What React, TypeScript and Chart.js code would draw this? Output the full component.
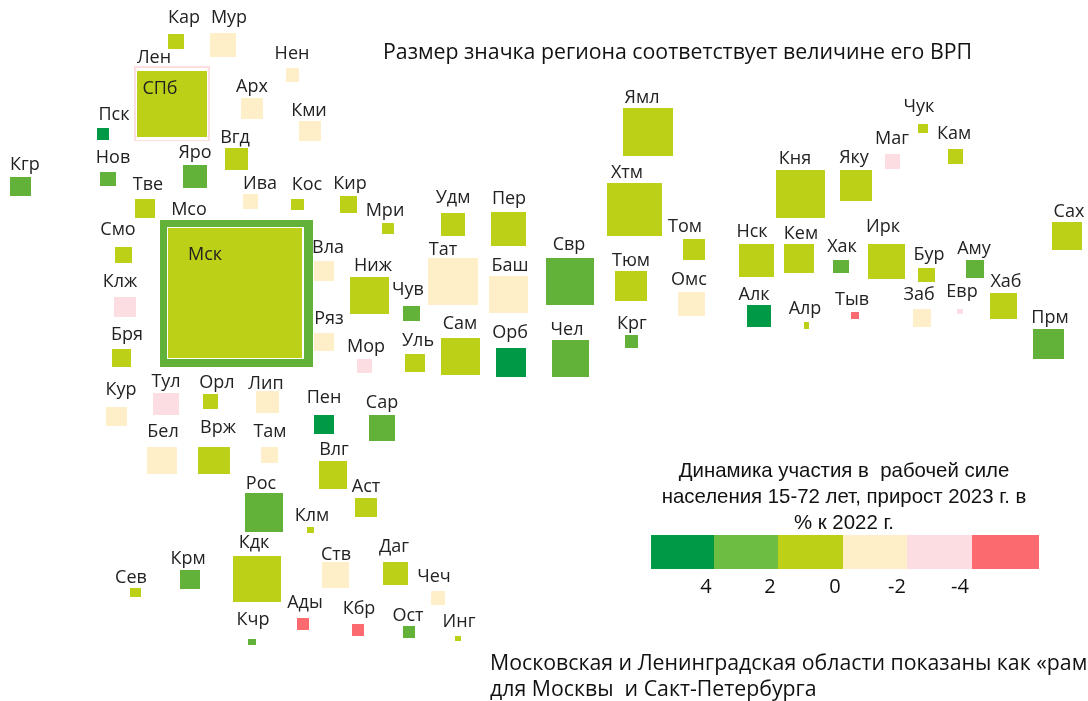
import React, { useEffect, useRef } from "react";
import { Chart, registerables } from "chart.js";

Chart.register(...registerables);

// Map extents are in cartogram units; the first two regions are the oblast "frames", the next two the cities they surround.
const regionNames = ["Лен","Мсо","СПб","Мск","Кар","Мур","Нен","Арх","Кми","Пск","Вгд","Яро","Нов","Кгр","Тве","Ива","Кос","Кир","Смо","Клж","Бря","Вла","Ряз","Кур","Тул","Орл","Лип","Пен","Бел","Врж","Там","Влг","Аст","Рос","Клм","Кдк","Ств","Даг","Чеч","Крм","Сев","Ады","Кбр","Ост","Инг","Кчр","Мри","Удм","Пер","Хтм","Тат","Баш","Свр","Ниж","Чув","Тюм","Сам","Орб","Чел","Крг","Уль","Мор","Сар","Ямл","Том","Омс","Кня","Яку","Маг","Чук","Кам","Нск","Кем","Хак","Ирк","Бур","Аму","Сах","Хаб","Прм","Алк","Алр","Тыв","Заб","Евр"];
const regionLeft = [134,160,137,168,168,210,286,241,299,97,225,183,100,10,135,243,291,340,115,114,112,314,314,106,153,203,256,314,147,198,261,319,355,245,307,233,322,383,431,180,130,297,352,403,455,248,382,441,491,607,428,489,546,350,403,615,441,496,552,625,405,357,369,623,683,678,776,840,885,918,948,739,784,833,868,918,966,1052,990,1033,747,804,851,913,957];
const regionRight = [210,313,207,302,184,236,299,263,321,109,248,207,116,31,155,258,304,357,132,136,131,334,334,127,179,218,279,334,177,230,278,347,377,283,314,281,349,408,445,200,141,309,364,415,461,256,394,465,526,662,478,528,594,389,420,647,480,526,589,638,425,372,395,673,705,705,825,872,900,928,963,774,814,849,905,935,984,1082,1017,1064,771,809,859,931,963];
const regionTop = [66,220,71,228,34,33,68,98,121,128,148,165,172,177,199,194,199,196,247,297,349,261,333,407,393,394,391,415,447,447,447,461,498,493,527,556,562,562,591,570,588,618,624,626,636,639,223,213,212,183,258,276,258,277,306,271,338,348,340,335,354,359,415,108,239,292,170,170,154,124,149,244,244,260,244,268,260,222,293,329,305,322,312,309,309];
const regionBottom = [141,367,137,358,49,57,82,119,141,140,170,188,186,196,218,209,210,213,263,317,367,281,351,426,415,409,413,434,474,474,463,489,517,532,533,602,588,585,605,589,597,630,636,638,641,645,234,236,246,236,305,313,305,314,321,301,375,377,377,348,372,373,441,156,260,316,218,201,169,133,164,277,273,273,279,282,278,250,319,359,327,329,319,327,314];
// Growth band of each region: 4, 2, 0, -2, -4, -6 (the colour scale's bins)
const regionGrowth = [-4,2,0,0,0,-2,-2,-2,-2,4,0,2,2,2,0,-2,0,0,0,-4,0,-2,-2,-2,-4,0,-2,4,-2,0,-2,0,0,2,0,0,-2,0,-2,2,0,-6,-6,2,0,2,0,0,0,0,-2,-2,2,0,2,0,0,4,2,2,0,-4,2,0,0,-2,0,0,-4,0,0,0,0,2,0,0,2,0,0,2,4,0,-6,-2,-4];
const labelX = [154,189,160,205,184,229,292,252,309,114,235,195,113,25,148,260,307,350,118,120,127,328,329,121,166,217,266,324,163,218,270,334,366,261,312,254,336,394,434,188,131,305,359,408,459,253,385,453,509,627,443,510,569,373,408,631,460,510,567,632,418,366,382,642,685,689,795,854,892,919,954,752,801,842,883,929,974,1069,1006,1050,754,805,852,919,962];
const labelBaseline = [63,215,94,260,23,23,59,92,116,120,143,158,163,170,190,189,190,189,235,287,340,253,324,395,387,388,389,403,437,433,437,455,492,489,521,548,560,552,582,564,583,608,614,621,627,625,216,203,204,178,255,271,250,271,295,266,329,338,335,329,346,352,408,103,232,285,164,163,144,112,139,237,239,252,232,260,254,217,287,323,300,314,305,300,297];

const haloLeft = [136,167];
const haloRight = [208,304];
const haloTop = [68,227];
const haloBottom = [140,359];

const bandValues = [4,2,0,-2,-4,-6];
const bandColors = ["#009A46","#62B23A","#BBD016","#FFEFC8","#FBDDE2","#FB6A6E"];
const scaleColors = ["#009A46","#6CBD41","#BBD016","#FFEFC8","#FBDDE2","#FB6A6E"];
const scaleEdges = [651,714,778,843,907,972,1039];
const scaleTop = 535;
const scaleBottom = 569;
const scaleTicks = ["4","2","0","-2","-4"];
const scaleTickX = [706,770,835,897,960];
const scaleTickBaseline = 593;

const headline = "Размер значка региона соответствует величине его ВРП";
const scaleTitle = ["Динамика участия в  рабочей силе","населения 15-72 лет, прирост 2023 г. в","% к 2022 г."];
const scaleTitleBaseline = [477,503,529];
const footnote = ["Московская и Ленинградская области показаны как «рам","для Москвы  и Сакт-Петербурга"];
const footnoteBaseline = [670,696];

const LABEL_FONT = '"Open Sans", sans-serif';
const TITLE_FONT = '"Liberation Sans", sans-serif';

type Tile = { x: number; y: number; l: number; r: number; t: number; b: number; color: string };

const tile = (l: number, r: number, t: number, b: number, color: string): Tile => ({ x: (l + r) / 2, y: (t + b) / 2, l, r, t, b, color });
const regionTile = (i: number) => tile(regionLeft[i], regionRight[i], regionTop[i], regionBottom[i], bandColors[bandValues.indexOf(regionGrowth[i])]);

const swatches = new Map<string, HTMLCanvasElement>();
function swatch(w: number, h: number, color: string) {
  const key = `${w}|${h}|${color}`;
  let c = swatches.get(key);
  if (!c) {
    c = document.createElement("canvas");
    c.width = w;
    c.height = h;
    const g = c.getContext("2d")!;
    g.fillStyle = color;
    g.fillRect(0, 0, w, h);
    swatches.set(key, c);
  }
  return c;
}

const tileStyle = (ctx: any) => {
  const p = ctx.raw as Tile | undefined;
  if (!p) return "rect";
  const { x, y } = ctx.chart.scales;
  const w = Math.max(1, Math.round(Math.abs(x.getPixelForValue(p.r) - x.getPixelForValue(p.l))));
  const h = Math.max(1, Math.round(Math.abs(y.getPixelForValue(p.b) - y.getPixelForValue(p.t))));
  return swatch(w, h, p.color);
};

const textPlugin = {
  id: "cartogramText",
  afterDraw(chart: any) {
    const { ctx, scales } = chart;
    const px = (v: number) => scales.x.getPixelForValue(v);
    const py = (v: number) => scales.y.getPixelForValue(v);
    ctx.save();
    ctx.fillStyle = "#222222";
    ctx.textBaseline = "alphabetic";
    ctx.textAlign = "center";
    ctx.font = `18px ${LABEL_FONT}`;
    regionNames.forEach((n, i) => ctx.fillText(n, px(labelX[i]), py(labelBaseline[i])));
    ctx.fillStyle = "#111111";
    ctx.font = `20px ${LABEL_FONT}`;
    scaleTicks.forEach((t, i) => ctx.fillText(t, px(scaleTickX[i]), py(scaleTickBaseline)));
    ctx.font = `20.4px ${TITLE_FONT}`;
    scaleTitle.forEach((t, i) => ctx.fillText(t, px(844), py(scaleTitleBaseline[i])));
    ctx.textAlign = "left";
    ctx.font = `21.3px ${LABEL_FONT}`;
    ctx.fillText(headline, px(383), py(59));
    footnote.forEach((t, i) => ctx.fillText(t, px(490), py(footnoteBaseline[i])));
    ctx.restore();
  },
};

export default function App() {
  const ref = useRef<HTMLCanvasElement | null>(null);
  useEffect(() => {
    if (!ref.current) return;
    const base = { showLine: false, clip: false as const, pointStyle: tileStyle };
    const chart = new Chart(ref.current, {
      type: "scatter",
      data: {
        datasets: [
          { ...base, label: "Города", data: [2, 3].map(regionTile) },
          { ...base, label: "Зазор", data: haloLeft.map((l, i) => tile(l, haloRight[i], haloTop[i], haloBottom[i], "#FFFFFF")) },
          { ...base, label: "Области-рамки", data: [0, 1].map(regionTile) },
          { ...base, label: "Регионы", data: regionNames.map((_, i) => i).filter((i) => i > 3).map(regionTile) },
          { ...base, label: "Шкала", data: scaleColors.map((c, i) => tile(scaleEdges[i], scaleEdges[i + 1], scaleTop, scaleBottom, c)) },
        ],
      } as any,
      options: {
        animation: false,
        responsive: false,
        events: [],
        layout: { padding: 0, autoPadding: false },
        scales: {
          x: { type: "linear", min: 0, max: 1088, display: false },
          y: { type: "linear", min: 0, max: 701, reverse: true, display: false },
        },
        plugins: { legend: { display: false }, tooltip: { enabled: false } },
      },
      plugins: [textPlugin],
    });
    return () => chart.destroy();
  }, []);
  return <canvas ref={ref} width={1088} height={701} style={{ position: "absolute", left: 0, top: 0, display: "block" }} />;
}
